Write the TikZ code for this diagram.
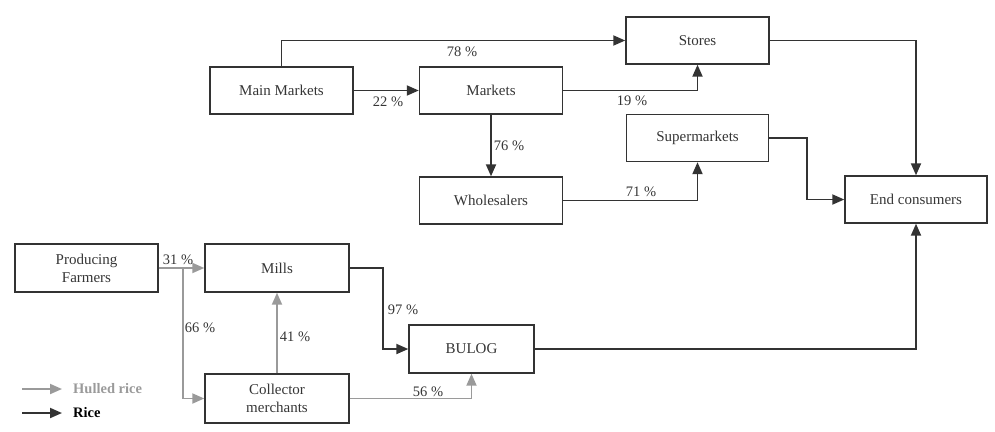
\documentclass[tikz,border=0pt]{standalone}
\usepackage{fontspec}
\setmainfont{Liberation Serif}
\usetikzlibrary{arrows.meta}
\definecolor{ink}{HTML}{353535}
\definecolor{lne}{HTML}{333333}
\definecolor{hull}{HTML}{9A9A9A}
\begin{document}
\begin{tikzpicture}[x=1pt,y=-1pt,
  box/.style={draw=lne,line width=1.4pt,inner sep=0pt,minimum height=47pt,
    text=ink,font=\fontsize{15}{18}\selectfont,align=center},
  blk/.style={draw=lne,line width=1.9pt,-{Triangle[length=12pt,width=10pt]}},
  gr/.style={draw=hull,line width=1.9pt,-{Triangle[length=12pt,width=10pt]}},
  lbl/.style={text=ink,font=\fontsize{14.5}{16}\selectfont,inner sep=1pt}]
\useasboundingbox (0,0) rectangle (995,431);
% boxes
\node[box,minimum width=143pt] (mm) at (281.5,90.5) {Main Markets};
\node[box,minimum width=143pt] (mk) at (491,90.5) {Markets};
\node[box,minimum width=143pt] (st) at (697.5,40.5) {Stores};
\node[box,minimum width=142pt] (su) at (697.5,138) {Supermarkets};
\node[box,minimum width=143pt] (wh) at (491,200.5) {Wholesalers};
\node[box,minimum width=142pt] (ec) at (916,199.5) {End consumers};
\node[box,minimum width=143pt,minimum height=48pt] (pf) at (86.5,268) {Producing\\Farmers};
\node[box,minimum width=144pt,minimum height=48pt] (mi) at (277,268) {Mills};
\node[box,minimum width=144pt,minimum height=49pt] (co) at (277,398.5) {Collector\\merchants};
\node[box,minimum width=125pt,minimum height=48pt] (bu) at (471.5,349) {BULOG};
% black flows
\draw[blk] (mm.north) |- (st.west);
\draw[blk] (mm.east) -- (mk.west);
\draw[blk] (mk.east) -| (st.south);
\draw[blk] (mk.south) -- (wh.north);
\draw[blk] (wh.east) -| (su.south);
\draw[blk] (st.east) -| (ec.north);
\draw[blk] (su.east) -- ++(38,0) |- (ec.west);
\draw[blk] (bu.east) -| (ec.south);
\draw[blk] (mi.east) -- ++(33,0) |- (bu.west);
% gray flows
\draw[gr] (pf.east) -- (mi.west);
\draw[gr] ([xshift=24pt]pf.east) |- (co.west);
\draw[gr] (co.north) -- (mi.south);
\draw[gr] (co.east) -| (bu.south);
% labels
\node[lbl] (l78) at (462,52) {78 \%};
\node[lbl] (l22) at (388,102) {22 \%};
\node[lbl] (l19) at (632,101) {19 \%};
\node[lbl] (l76) at (509,146) {76 \%};
\node[lbl] (l71) at (641,192) {71 \%};
\node[lbl] (l97) at (403,310) {97 \%};
\node[lbl] (l31) at (178,260) {31 \%};
\node[lbl] (l66) at (200,328) {66 \%};
\node[lbl] (l41) at (295,337) {41 \%};
\node[lbl] (l56) at (428,392) {56 \%};
% legend
\coordinate (g1) at (22,389);
\coordinate (g2) at (62,389);
\coordinate (b1) at (22,413);
\coordinate (b2) at (62,413);
\draw[gr] (g1) -- (g2);
\draw[blk] (b1) -- (b2);
\node[anchor=west,inner sep=0pt,text=hull,font=\fontsize{14.5}{16}\selectfont\bfseries] (lh) at (73,389) {Hulled rice};
\node[anchor=west,inner sep=0pt,text=black,font=\fontsize{14.5}{16}\selectfont\bfseries] (lr) at (73,413) {Rice};
\end{tikzpicture}
\end{document}
